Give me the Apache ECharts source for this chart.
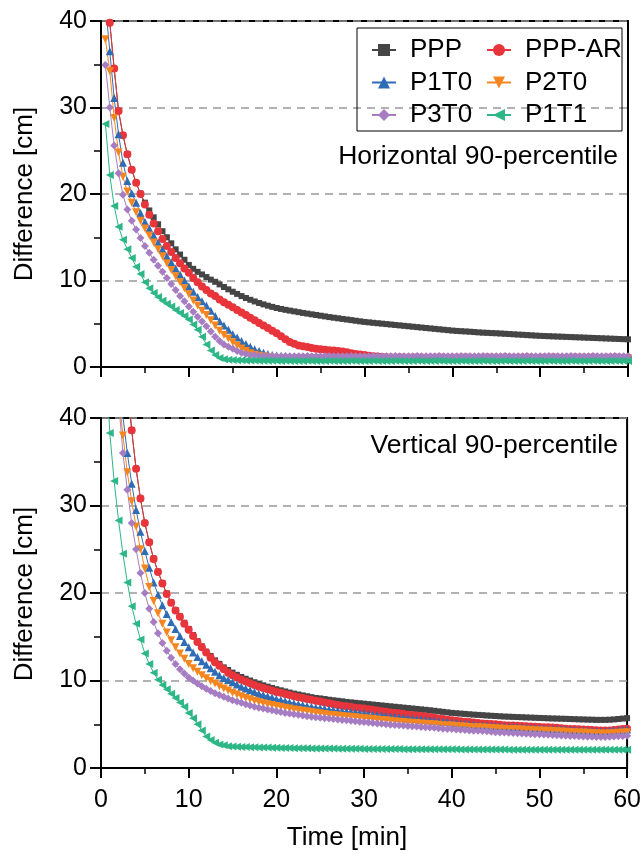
<!DOCTYPE html>
<html>
<head>
<meta charset="utf-8">
<script src="https://cdn.jsdelivr.net/npm/echarts@6/dist/echarts.min.js"></script>
<style>
html,body{margin:0;padding:0;background:#fff;}
#chart{width:644px;height:857px;}
</style>
</head>
<body>
<div id="chart"></div>
<script>
const seriesNames = ['PPP', 'PPP-AR', 'P1T0', 'P2T0', 'P3T0', 'P1T1'];
const xTicks = [0, 10, 20, 30, 40, 50, 60];
const yTicks = [0, 10, 20, 30, 40];

const times = [
 0.5,1,1.5,2,2.5,3,3.5,4,4.5,5,
 5.5,6,6.5,7,7.5,8,8.5,9,9.5,10,
 10.5,11,11.5,12,12.5,13,13.5,14,14.5,15,
 15.5,16,16.5,17,17.5,18,18.5,19,19.5,20,
 20.5,21,21.5,22,22.5,23,23.5,24,24.5,25,
 25.5,26,26.5,27,27.5,28,28.5,29,29.5,30,
 30.5,31,31.5,32,32.5,33,33.5,34,34.5,35,
 35.5,36,36.5,37,37.5,38,38.5,39,39.5,40,
 40.5,41,41.5,42,42.5,43,43.5,44,44.5,45,
 45.5,46,46.5,47,47.5,48,48.5,49,49.5,50,
 50.5,51,51.5,52,52.5,53,53.5,54,54.5,55,
 55.5,56,56.5,57,57.5,58,58.5,59,59.5,60
];

// ---- Horizontal 90-percentile ----
const hPPP = [
 48,39.8,34.5,29.6,26.8,24.6,22.8,21.3,20.05,19.0,
 18.1,17.3,16.5,15.7,15.0,14.3,13.6,13.0,12.4,11.8,
 11.35,11.0,10.7,10.4,10.1,9.85,9.55,9.25,8.98,8.7,
 8.45,8.2,7.98,7.77,7.58,7.4,7.24,7.09,6.95,6.82,
 6.71,6.61,6.52,6.43,6.34,6.25,6.17,6.09,6.01,5.93,
 5.85,5.77,5.7,5.63,5.56,5.49,5.42,5.35,5.28,5.21,
 5.16,5.11,5.06,5.01,4.96,4.91,4.86,4.81,4.76,4.71,
 4.66,4.61,4.56,4.51,4.46,4.41,4.36,4.31,4.26,4.21,
 4.17,4.14,4.11,4.08,4.04,4.0,3.97,3.95,3.92,3.9,
 3.87,3.84,3.81,3.78,3.75,3.72,3.69,3.66,3.63,3.6,
 3.58,3.56,3.54,3.52,3.5,3.48,3.46,3.44,3.42,3.4,
 3.38,3.36,3.34,3.32,3.3,3.28,3.26,3.24,3.22,3.2
];
const hPPPAR = [
 48,39.8,34.5,29.6,26.8,24.6,22.8,21.3,20.0,18.8,
 17.6,16.6,15.7,14.8,14.0,13.3,12.6,12.0,11.4,10.9,
 10.3,9.8,9.3,8.9,8.5,8.2,7.8,7.5,7.2,6.9,
 6.6,6.3,6.0,5.7,5.4,5.1,4.8,4.5,4.2,3.9,
 3.55,3.2,2.9,2.7,2.5,2.4,2.3,2.2,2.1,2.05,
 2.0,1.95,1.9,1.85,1.8,1.7,1.6,1.5,1.45,1.4,
 1.3,1.25,1.2,1.15,1.12,1.1,1.1,1.12,1.1,1.1,
 1.1,1.12,1.1,1.08,1.1,1.1,1.12,1.1,1.08,1.1,
 1.1,1.1,1.12,1.1,1.08,1.1,1.1,1.12,1.1,1.1,
 1.1,1.12,1.1,1.08,1.1,1.1,1.12,1.1,1.08,1.1,
 1.1,1.1,1.12,1.1,1.08,1.1,1.1,1.12,1.1,1.1,
 1.1,1.12,1.1,1.08,1.1,1.1,1.12,1.1,1.08,1.1
];
const hP1T0 = [
 42,36.5,31.1,26.9,23.6,21.5,20.1,19.0,17.8,16.8,
 16.0,15.2,14.4,13.6,12.8,12.1,11.4,10.7,10.0,9.3,
 8.7,8.1,7.6,7.1,6.5,5.9,5.3,4.8,4.3,3.8,
 3.4,3.0,2.65,2.35,2.05,1.85,1.65,1.5,1.4,1.33,
 1.27,1.22,1.18,1.16,1.15,1.15,1.14,1.15,1.16,1.15,
 1.15,1.14,1.15,1.16,1.15,1.15,1.14,1.15,1.16,1.15,
 1.15,1.14,1.15,1.16,1.15,1.15,1.14,1.15,1.16,1.15,
 1.15,1.14,1.15,1.16,1.15,1.15,1.14,1.15,1.16,1.15,
 1.15,1.14,1.15,1.16,1.15,1.15,1.14,1.15,1.16,1.15,
 1.15,1.14,1.15,1.16,1.15,1.15,1.14,1.15,1.16,1.15,
 1.15,1.14,1.15,1.16,1.15,1.15,1.14,1.15,1.16,1.15,
 1.15,1.14,1.15,1.16,1.15,1.15,1.14,1.15,1.16,1.15
];
const hP2T0 = [
 37.9,34.2,28.8,24.8,22.0,20.3,19.0,17.9,16.9,16.0,
 15.2,14.4,13.6,12.8,12.0,11.2,10.5,9.8,9.1,8.4,
 7.7,7.1,6.5,6.0,5.4,4.8,4.2,3.7,3.3,2.85,
 2.5,2.15,1.85,1.6,1.42,1.3,1.2,1.12,1.06,1.02,
 1.0,1.0,0.99,1.0,1.01,1.0,1.0,0.99,1.0,1.01,
 1.0,1.0,0.99,1.0,1.01,1.0,1.0,0.99,1.0,1.01,
 1.0,1.0,0.99,1.0,1.01,1.0,1.0,0.99,1.0,1.01,
 1.0,1.0,0.99,1.0,1.01,1.0,1.0,0.99,1.0,1.01,
 1.0,1.0,0.99,1.0,1.01,1.0,1.0,0.99,1.0,1.01,
 1.0,1.0,0.99,1.0,1.01,1.0,1.0,0.99,1.0,1.01,
 1.0,1.0,0.99,1.0,1.01,1.0,1.0,0.99,1.0,1.01,
 1.0,1.0,0.99,1.0,1.01,1.0,1.0,0.99,1.0,1.01
];
const hP3T0 = [
 34.9,30.0,25.6,22.4,19.9,18.2,16.9,15.9,14.9,14.0,
 13.2,12.4,11.7,11.0,10.3,9.6,8.9,8.2,7.6,7.0,
 6.4,5.8,5.25,4.7,4.1,3.5,3.0,2.6,2.35,2.1,
 1.85,1.65,1.5,1.4,1.35,1.3,1.28,1.26,1.25,1.25,
 1.25,1.26,1.25,1.24,1.25,1.25,1.26,1.25,1.24,1.25,
 1.25,1.26,1.25,1.24,1.25,1.25,1.26,1.25,1.24,1.25,
 1.25,1.26,1.25,1.24,1.25,1.25,1.26,1.25,1.24,1.25,
 1.25,1.26,1.25,1.24,1.25,1.25,1.26,1.25,1.24,1.25,
 1.25,1.26,1.25,1.24,1.25,1.25,1.26,1.25,1.24,1.25,
 1.25,1.26,1.25,1.24,1.25,1.25,1.26,1.25,1.24,1.25,
 1.25,1.26,1.25,1.24,1.25,1.25,1.26,1.25,1.24,1.25,
 1.25,1.26,1.25,1.24,1.25,1.25,1.26,1.25,1.24,1.25
];
const hP1T1 = [
 28.1,22.2,18.6,16.2,14.7,13.6,12.6,11.6,10.75,9.8,
 9.1,8.55,8.1,7.65,7.3,7.0,6.6,6.25,5.9,5.5,
 4.9,4.3,3.5,2.6,1.9,1.4,1.05,0.9,0.85,0.8,
 0.78,0.77,0.76,0.75,0.74,0.73,0.72,0.72,0.71,0.71,
 0.7,0.71,0.7,0.69,0.7,0.7,0.71,0.7,0.69,0.7,
 0.7,0.71,0.7,0.69,0.7,0.7,0.71,0.7,0.69,0.7,
 0.7,0.71,0.7,0.69,0.7,0.7,0.71,0.7,0.69,0.7,
 0.7,0.71,0.7,0.69,0.7,0.7,0.71,0.7,0.69,0.7,
 0.7,0.71,0.7,0.69,0.7,0.7,0.71,0.7,0.69,0.7,
 0.7,0.71,0.7,0.69,0.7,0.7,0.71,0.7,0.69,0.7,
 0.7,0.71,0.7,0.69,0.7,0.7,0.71,0.7,0.69,0.7,
 0.7,0.71,0.7,0.69,0.7,0.7,0.71,0.7,0.69,0.7
];

// ---- Vertical 90-percentile ----
const vPPP = [
 100,82,68,58,50,44,38.6,34.2,30.8,28.0,
 25.8,23.95,22.45,21.15,19.95,18.95,18.05,17.35,16.6,15.9,
 15.2,14.5,13.9,13.3,12.8,12.3,11.9,11.5,11.2,10.9,
 10.65,10.4,10.2,10.0,9.8,9.6,9.45,9.3,9.15,9.0,
 8.88,8.75,8.62,8.5,8.4,8.3,8.2,8.1,8.0,7.95,
 7.88,7.8,7.74,7.68,7.62,7.55,7.5,7.45,7.4,7.35,
 7.3,7.25,7.2,7.15,7.1,7.05,7.0,6.95,6.9,6.85,
 6.8,6.75,6.7,6.65,6.6,6.54,6.48,6.42,6.36,6.3,
 6.26,6.22,6.18,6.14,6.1,6.07,6.04,6.0,5.97,5.94,
 5.91,5.88,5.86,5.84,5.82,5.8,5.78,5.76,5.74,5.72,
 5.7,5.68,5.66,5.65,5.63,5.62,5.6,5.58,5.56,5.55,
 5.53,5.52,5.5,5.5,5.5,5.52,5.55,5.6,5.65,5.7
];
const vPPPAR = [
 100,82,68,58,50,44,38.6,34.2,30.8,28.0,
 25.8,23.9,22.4,21.1,19.9,18.9,18.0,17.3,16.5,15.8,
 15.1,14.4,13.8,13.2,12.6,12.1,11.7,11.3,10.9,10.6,
 10.35,10.1,9.9,9.7,9.5,9.3,9.15,9.0,8.85,8.7,
 8.6,8.45,8.35,8.2,8.1,8.0,7.9,7.8,7.7,7.6,
 7.5,7.4,7.3,7.2,7.1,7.05,7.0,6.9,6.85,6.8,
 6.72,6.65,6.57,6.5,6.42,6.35,6.3,6.25,6.17,6.1,
 6.05,6.0,5.95,5.9,5.82,5.75,5.67,5.6,5.52,5.45,
 5.4,5.35,5.3,5.25,5.2,5.15,5.1,5.05,5.02,5.0,
 4.95,4.9,4.87,4.85,4.82,4.8,4.77,4.75,4.72,4.7,
 4.67,4.65,4.62,4.6,4.55,4.5,4.47,4.45,4.42,4.4,
 4.37,4.35,4.32,4.3,4.3,4.3,4.35,4.4,4.45,4.5
];
const vP1T0 = [
 85,70,58,50,40.2,36.0,32.5,29.5,27.0,24.8,
 22.9,21.2,19.8,18.6,17.6,16.7,15.9,15.1,14.4,13.8,
 13.2,12.7,12.2,11.8,11.4,11.0,10.6,10.3,10.05,9.8,
 9.55,9.3,9.1,8.9,8.7,8.5,8.35,8.2,8.05,7.9,
 7.78,7.65,7.52,7.4,7.3,7.2,7.1,7.0,6.92,6.85,
 6.78,6.7,6.62,6.55,6.5,6.45,6.4,6.35,6.3,6.25,
 6.18,6.1,6.05,6.0,5.95,5.9,5.85,5.8,5.75,5.7,
 5.65,5.6,5.55,5.5,5.45,5.4,5.35,5.3,5.25,5.2,
 5.15,5.1,5.05,5.0,4.96,4.92,4.88,4.85,4.82,4.8,
 4.77,4.75,4.72,4.7,4.67,4.65,4.62,4.6,4.57,4.55,
 4.52,4.5,4.47,4.45,4.42,4.4,4.37,4.35,4.32,4.3,
 4.27,4.25,4.22,4.2,4.2,4.25,4.3,4.33,4.37,4.4
];
const vP2T0 = [
 80,65,54,43,38.0,33.8,30.5,27.6,25.0,22.8,
 20.7,19.1,17.7,16.5,15.5,14.6,13.8,13.1,12.5,11.9,
 11.4,11.0,10.6,10.25,9.95,9.65,9.35,9.1,8.85,8.6,
 8.4,8.2,8.0,7.85,7.7,7.55,7.4,7.3,7.2,7.1,
 7.0,6.9,6.8,6.7,6.62,6.55,6.48,6.4,6.32,6.25,
 6.18,6.1,6.05,6.0,5.95,5.9,5.85,5.8,5.75,5.7,
 5.65,5.6,5.55,5.5,5.45,5.4,5.35,5.3,5.25,5.2,
 5.17,5.15,5.1,5.05,5.02,5.0,4.95,4.9,4.87,4.85,
 4.81,4.78,4.74,4.7,4.67,4.65,4.62,4.6,4.57,4.55,
 4.52,4.5,4.47,4.45,4.42,4.4,4.37,4.35,4.32,4.3,
 4.27,4.25,4.22,4.2,4.17,4.15,4.12,4.1,4.07,4.05,
 4.02,4.0,3.97,3.95,3.95,3.97,4.0,4.03,4.07,4.1
];
const vP3T0 = [
 75,60,50,42.0,36.0,31.8,28.0,25.0,22.3,20.0,
 18.2,16.7,15.4,14.3,13.4,12.6,11.9,11.3,10.8,10.35,
 10.0,9.65,9.35,9.05,8.8,8.55,8.35,8.15,7.95,7.75,
 7.6,7.45,7.3,7.15,7.0,6.9,6.8,6.7,6.6,6.5,
 6.4,6.3,6.22,6.15,6.08,6.0,5.92,5.85,5.8,5.75,
 5.7,5.65,5.6,5.55,5.5,5.45,5.4,5.35,5.3,5.25,
 5.2,5.15,5.1,5.05,5.0,4.95,4.92,4.9,4.85,4.8,
 4.77,4.75,4.7,4.65,4.62,4.6,4.55,4.5,4.47,4.45,
 4.41,4.38,4.34,4.3,4.27,4.25,4.22,4.2,4.15,4.1,
 4.07,4.05,4.02,4.0,3.97,3.95,3.92,3.9,3.87,3.85,
 3.82,3.8,3.77,3.75,3.72,3.7,3.67,3.65,3.62,3.6,
 3.58,3.56,3.55,3.55,3.55,3.57,3.6,3.63,3.67,3.7
];
const vP1T1 = [
 48,38.3,32.8,28.3,24.5,21.2,18.5,16.5,14.7,13.1,
 11.9,10.9,10.1,9.5,9.0,8.5,8.0,7.5,7.0,6.3,
 5.7,5.0,4.3,3.6,3.2,2.9,2.7,2.6,2.5,2.45,
 2.42,2.4,2.39,2.38,2.37,2.35,2.34,2.33,2.32,2.31,
 2.3,2.29,2.28,2.27,2.26,2.25,2.25,2.24,2.24,2.23,
 2.23,2.22,2.22,2.21,2.21,2.2,2.2,2.19,2.19,2.18,
 2.18,2.18,2.17,2.17,2.17,2.16,2.16,2.16,2.15,2.15,
 2.15,2.15,2.14,2.14,2.14,2.14,2.13,2.13,2.13,2.13,
 2.13,2.12,2.12,2.12,2.12,2.12,2.11,2.11,2.11,2.11,
 2.11,2.11,2.1,2.1,2.1,2.1,2.1,2.1,2.1,2.1,
 2.1,2.1,2.1,2.1,2.1,2.1,2.1,2.1,2.1,2.1,
 2.1,2.1,2.1,2.1,2.1,2.1,2.1,2.1,2.1,2.1
];

const colors = ['#454545', '#e8343b', '#2f6cb6', '#f5861f', '#a67dc2', '#2db686'];
const symbols = ['rect', 'circle', 'triangle', 'triangle', 'diamond', 'triangle'];
const rotations = [0, 0, 0, 180, 0, 90];
const sizes = [6, 8, 8, 8, 8, 8];

const FONT = '"Liberation Sans", Arial, sans-serif';
const hData = [hPPP, hPPPAR, hP1T0, hP2T0, hP3T0, hP1T1];
const vData = [vPPP, vPPPAR, vP1T0, vP2T0, vP3T0, vP1T1];

function pairs(vals) { return times.map((t, i) => [t, vals[i]]); }

const series = [];
[hData, vData].forEach((set, gi) => {
  set.forEach((vals, si) => {
    series.push({
      name: seriesNames[si],
      type: 'line',
      xAxisIndex: gi, yAxisIndex: gi,
      data: pairs(vals),
      symbol: symbols[si],
      symbolRotate: rotations[si],
      symbolSize: sizes[si],
      showSymbol: true,
      color: colors[si],
      lineStyle: { width: 1, color: colors[si] },
      itemStyle: { color: colors[si] },
      clip: true,
      animation: false
    });
  });
});

function xAxisCfg(gi, showLabels) {
  return {
    type: 'value', gridIndex: gi, min: 0, max: 60, interval: 10,
    axisLine: { show: true, onZero: false, lineStyle: { color: '#000', width: 2 } },
    axisTick: { show: true, length: 10, lineStyle: { color: '#000', width: 2 } },
    minorTick: { show: true, splitNumber: 2, length: 6, lineStyle: { color: '#000', width: 1.5 } },
    axisLabel: { show: showLabels, fontSize: 25, color: '#000', margin: 20, fontFamily: FONT,
      formatter: v => xTicks.indexOf(v) >= 0 ? String(v) : '' },
    splitLine: { show: false }
  };
}
function yAxisCfg(gi) {
  return {
    type: 'value', gridIndex: gi, min: 0, max: 40, interval: 10,
    axisLine: { show: true, onZero: false, lineStyle: { color: '#000', width: 2 } },
    axisTick: { show: true, length: 11, lineStyle: { color: '#000', width: 2 } },
    minorTick: { show: true, splitNumber: 2, length: 7, lineStyle: { color: '#000', width: 1.5 } },
    axisLabel: { fontSize: 25, color: '#000', margin: 14, fontFamily: FONT,
      formatter: v => yTicks.indexOf(v) >= 0 ? String(v) : '' },
    splitLine: { show: true, lineStyle: { color: '#999', width: 1.5, type: [8, 6] } }
  };
}

const legendCommon = {
  orient: 'vertical',
  itemWidth: 24, itemHeight: 15, itemGap: 6.5,
  textStyle: { fontSize: 26, color: '#000', fontFamily: FONT, padding: [0, 0, 0, 9], lineHeight: 26 },
  selectedMode: false
};

const option = {
  backgroundColor: '#fff',
  animation: false,
  grid: [
    { left: 101, right: 16, top: 21, height: 346, show: true, borderColor: '#000', borderWidth: 2, backgroundColor: 'transparent' },
    { left: 101, right: 16, top: 418, height: 350, show: true, borderColor: '#000', borderWidth: 2, backgroundColor: 'transparent' }
  ],
  xAxis: [xAxisCfg(0, false), xAxisCfg(1, true)],
  yAxis: [yAxisCfg(0), yAxisCfg(1)],
  legend: [
    Object.assign({ left: 366, top: 32, data: ['PPP', 'P1T0', 'P3T0'] }, legendCommon),
    Object.assign({ left: 481, top: 32, data: ['PPP-AR', 'P2T0', 'P1T1'] }, legendCommon)
  ],
  graphic: [
    { type: 'rect', shape: { x: 357, y: 28, width: 265, height: 103 },
      style: { fill: 'none', stroke: '#000', lineWidth: 1 }, z: 100 },
    { type: 'text', x: 618, y: 157, z: 100,
      style: { text: 'Horizontal 90-percentile', font: '26.5px ' + FONT, fill: '#000', textAlign: 'right', textVerticalAlign: 'middle' } },
    { type: 'text', x: 618, y: 446, z: 100,
      style: { text: 'Vertical 90-percentile', font: '26.5px ' + FONT, fill: '#000', textAlign: 'right', textVerticalAlign: 'middle' } },
    { type: 'text', x: 25, y: 194, rotation: Math.PI / 2, z: 100,
      style: { text: 'Difference [cm]', font: '26px ' + FONT, fill: '#000', textAlign: 'center', textVerticalAlign: 'middle' } },
    { type: 'text', x: 25, y: 594, rotation: Math.PI / 2, z: 100,
      style: { text: 'Difference [cm]', font: '26px ' + FONT, fill: '#000', textAlign: 'center', textVerticalAlign: 'middle' } },
    { type: 'text', x: 347, y: 838, z: 100,
      style: { text: 'Time [min]', font: '26px ' + FONT, fill: '#000', textAlign: 'center', textVerticalAlign: 'middle' } }
  ],
  series: series
};

const chart = echarts.init(document.getElementById('chart'), null, { renderer: 'canvas' });
chart.setOption(option);
</script>
</body>
</html>
